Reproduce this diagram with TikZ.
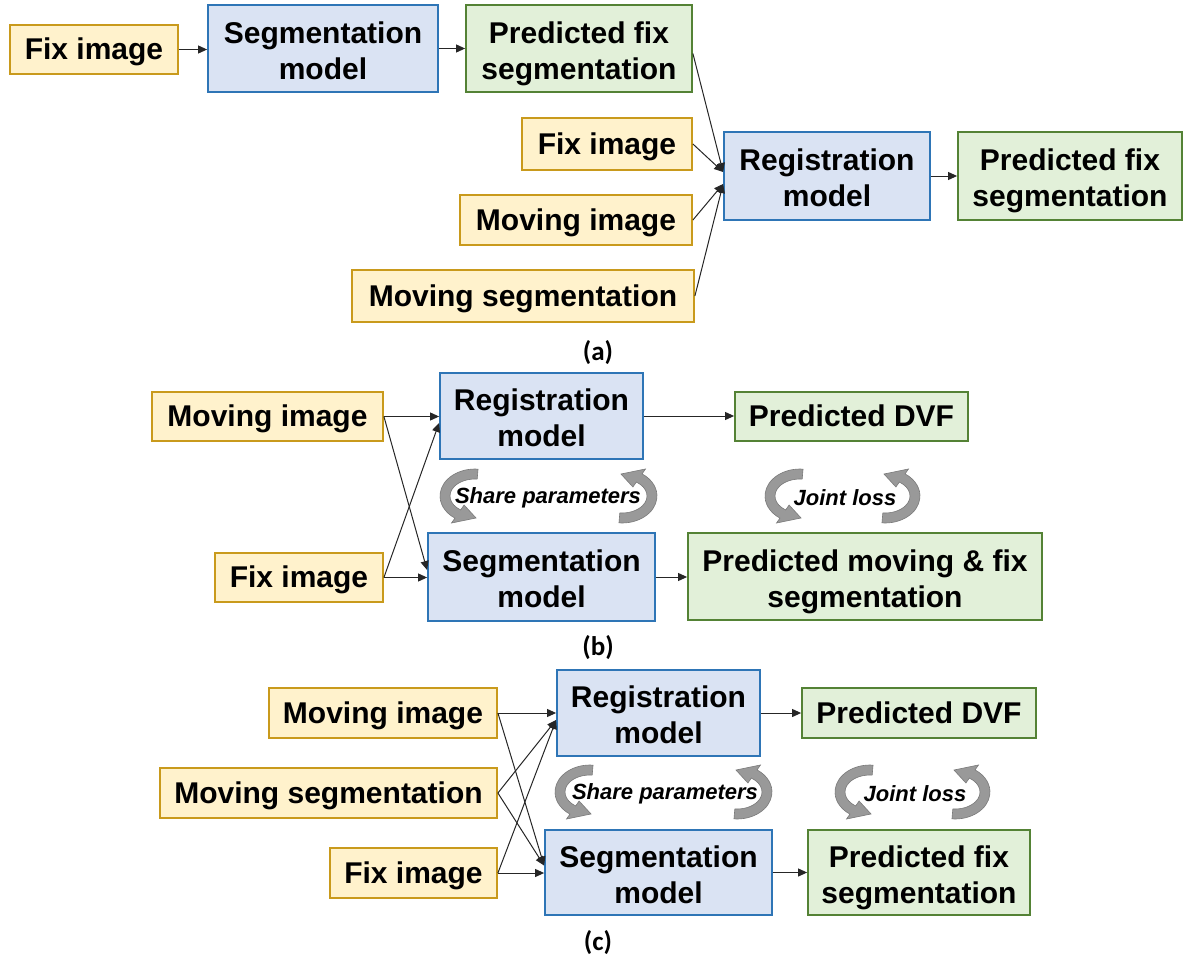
\documentclass[tikz,border=0pt]{standalone}
\usepackage{fontspec}
\setmainfont{Liberation Sans}
\newfontfamily\capfont{Carlito}
\usetikzlibrary{arrows.meta}

\definecolor{inFill}{HTML}{FFF2CC}
\definecolor{inLine}{HTML}{C99A1C}
\definecolor{mdFill}{HTML}{DAE3F3}
\definecolor{mdLine}{HTML}{2E75B6}
\definecolor{outFill}{HTML}{E2F0D9}
\definecolor{outLine}{HTML}{548235}

% two-line box label with fixed first-line height and last-line depth
\newcommand\twoline[2]{\rule{0pt}{32pt}#1\\#2\rule[-7pt]{0pt}{0pt}}

\tikzset{
  box/.style={draw, line width=1.8pt, align=center, inner sep=0pt,
    font=\fontsize{30}{36}\selectfont\bfseries,
    % fixed height and depth keep one-line labels on the same baseline grid
    execute at begin node={\rule{0pt}{27pt}},
    execute at end node={\rule[-7pt]{0pt}{0pt}}},
  inbox/.style={box, fill=inFill, draw=inLine},
  mdbox/.style={box, fill=mdFill, draw=mdLine},
  outbox/.style={box, fill=outFill, draw=outLine},
  sz/.style 2 args={minimum width=#1pt, minimum height=#2pt},
  link/.style={draw=black!85, line width=1pt, -{Triangle[length=9pt,width=8pt]}},
  sublabel/.style={font=\capfont\fontsize{27}{30}\selectfont\bfseries},
  note/.style={font=\fontsize{22}{26}\selectfont\bfseries\itshape},
  cycfill/.style={fill=black!40, draw=black!52, line width=0.6pt},
  cyc/.pic={
    \begin{scope}[yscale=-1]
      \path[cycfill] (85:35 and 27)
        arc[start angle=85, end angle=235, x radius=35, y radius=27]
        -- (235:41 and 33) -- (272:30 and 22) -- (235:19 and 11)
        -- (235:25 and 17)
        arc[start angle=235, end angle=85, x radius=25, y radius=17]
        -- cycle;
    \end{scope}
  }
}

\begin{document}
\begin{tikzpicture}[x=1pt, y=-1pt]
\useasboundingbox (0,0) rectangle (1184,961);

% ---------- (a) ----------
\node[inbox, sz={168}{49}]  (a1) at (94,49.5)   {Fix image};
\node[mdbox, sz={230}{87}]  (a2) at (323,48.5)  {\twoline{Segmentation}{model}};
\node[outbox, sz={226}{87}] (a3) at (579,48.5)  {\twoline{Predicted fix}{segmentation}};
\node[inbox, sz={170}{52}]  (a4) at (607,144)   {Fix image};
\node[inbox, sz={232}{50}]  (a5) at (576,220)   {Moving image};
\node[inbox, sz={342}{52}]  (a6) at (523,296)   {Moving segmentation};
\node[mdbox, sz={206}{88}]  (a7) at (827,176)   {\twoline{Registration}{model}};
\node[outbox, sz={224}{88}] (a8) at (1070,176)  {\twoline{Predicted fix}{segmentation}};
\node[sublabel] (la) at (598,353) {(a)};

\draw[link] (a1.east) -- (a2.west |- a1.east);
\draw[link] (a2.east) -- (a3.west);
\draw[link] ([yshift=-5pt]a3.east) -- ([yshift=4pt]a7.west);
\draw[link] (a4.east) -- ([yshift=4pt]a7.west);
\draw[link] (a5.east) -- ([yshift=-8pt]a7.west);
\draw[link] (a6.east) -- ([yshift=-8pt]a7.west);
\draw[link] (a7.east) -- (a8.west);

% ---------- (b) ----------
\node[inbox, sz={231}{49}]  (b1) at (267.5,416.5) {Moving image};
\node[inbox, sz={168}{49}]  (b2) at (299,577.5)   {Fix image};
\node[mdbox, sz={203}{86}]  (b3) at (541.5,416)   {\twoline{Registration}{model}};
\node[mdbox, sz={227}{88}]  (b4) at (541.5,577)   {\twoline{Segmentation}{model}};
\node[outbox, sz={233}{49}] (b5) at (851.5,416.5) {Predicted DVF};
\node[outbox, sz={354}{87}] (b6) at (865,576.5)   {\twoline{Predicted moving \& fix}{segmentation}};
\node[sublabel] (lb) at (598,648) {(b)};

\draw[link] (b1.east) -- (b3.west |- b1.east);
\draw[link] (b1.east) -- ([yshift=7pt]b4.west);
\draw[link] (b2.east) -- ([yshift=-7pt]b3.west);
\draw[link] (b2.east) -- (b4.west |- b2.east);
\draw[link] (b3.east) -- (b5.west |- b3.east);
\draw[link] (b4.east) -- (b6.west |- b4.east);

\pic at (475,496) {cyc};
\pic[rotate=180] at (622,496) {cyc};
\node[note] (sb) at (548,498) {Share parameters};
\pic at (800,496) {cyc};
\pic[rotate=180] at (885,496) {cyc};
\node[note] (jb) at (845,498) {Joint loss};

% ---------- (c) ----------
\node[inbox, sz={228}{50}]  (c1) at (383,713)     {Moving image};
\node[inbox, sz={337}{50}]  (c2) at (328.5,793)   {Moving segmentation};
\node[inbox, sz={167}{50}]  (c3) at (413.5,873)   {Fix image};
\node[mdbox, sz={203}{86}]  (c4) at (658.5,713)   {\twoline{Registration}{model}};
\node[mdbox, sz={227}{85}]  (c5) at (658.5,872.5) {\twoline{Segmentation}{model}};
\node[outbox, sz={234}{50}] (c6) at (919,713)     {Predicted DVF};
\node[outbox, sz={222}{85}] (c7) at (919,872.5)   {\twoline{Predicted fix}{segmentation}};
\node[sublabel] (lc) at (598,943) {(c)};

\draw[link] (c1.east) -- (c4.west |- c1.east);
\draw[link] (c1.east) -- ([yshift=7pt]c5.west);
\draw[link] (c2.east) -- ([yshift=-7pt]c4.west);
\draw[link] (c2.east) -- ([yshift=7pt]c5.west);
\draw[link] (c3.east) -- ([yshift=-7pt]c4.west);
\draw[link] (c3.east) -- (c5.west |- c3.east);
\draw[link] (c4.east) -- (c6.west |- c4.east);
\draw[link] (c5.east) -- (c7.west |- c5.east);

\pic at (590,792) {cyc};
\pic[rotate=180] at (737,792) {cyc};
\node[note] (sc) at (665,794) {Share parameters};
\pic at (870,792) {cyc};
\pic[rotate=180] at (955,792) {cyc};
\node[note] (jc) at (915,794) {Joint loss};
\end{tikzpicture}
\end{document}
